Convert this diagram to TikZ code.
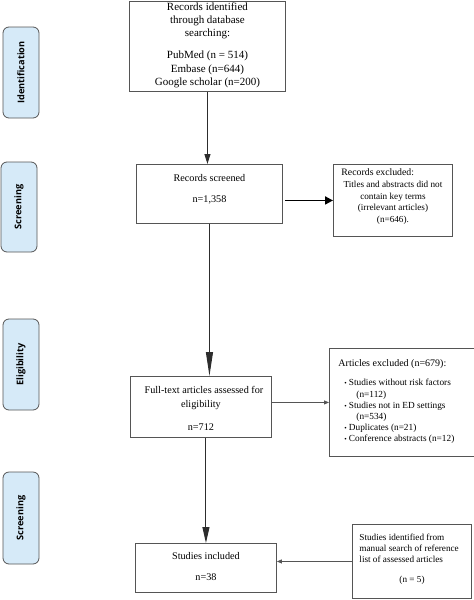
\documentclass[tikz,border=0pt]{standalone}
\usepackage{fontspec}
\setmainfont{Liberation Serif}
\newfontfamily\lblfont{Open Sans}
\usetikzlibrary{arrows.meta}
\definecolor{lblfill}{RGB}{214,234,248}
\definecolor{edge}{RGB}{85,85,85}
\definecolor{lineclr}{RGB}{45,45,45}
\begin{document}
\begin{tikzpicture}[x=1pt,y=-1pt,
  box/.style={draw=edge,line width=0.9pt,inner sep=0pt,anchor=north west},
  phase/.style={draw=edge,fill=lblfill,rounded corners=6pt,line width=0.8pt,rotate=90,
    font=\lblfont\bfseries\fontsize{9.2}{10}\selectfont,inner sep=0pt,minimum height=36pt},
  vline/.style={draw=lineclr,line width=1pt},
  hthick/.style={draw=black,line width=1.8pt,-{Triangle[length=8pt,width=8pt]}},
  hthin/.style={draw=edge,line width=0.8pt,-{Triangle[length=5pt,width=4pt]}}
]
\useasboundingbox (0,0) rectangle (474,600);

% phase labels
\node[phase,minimum width=91pt] (pid) at (21,72.5) {Identification};
\node[phase,minimum width=90pt] (psc1) at (19,207) {Screening};
\node[phase,minimum width=91pt] (pel) at (21,364.5) {Eligibility};
\node[phase,minimum width=92pt] (psc2) at (21,518) {Screening};

% boxes
\node[box] (b1) at (129,0.5) {\parbox[t][90.5pt][t]{156pt}{\fontsize{11}{13.3}\selectfont\centering
  \vspace*{1.6pt}Records identified\\through database\\searching:\\[8.7pt]PubMed (n = 514)\\Embase (n=644)\\Google scholar (n=200)}};

\node[box] (scr) at (136,164) {\parbox[t][59pt][t]{146pt}{\fontsize{10.2}{12.6}\selectfont\centering
  \vspace*{10.3pt}Records screened\\[8.4pt]n=1,358}};

\node[box] (exc1) at (333,164) {\parbox[t][72pt][t]{119pt}{\fontsize{9.2}{11.7}\selectfont\centering
  \vspace*{4.5pt}\makebox[119pt][l]{\hspace*{8pt}\fontsize{9.8}{11.7}\selectfont Records excluded:}\\Titles and abstracts did not\\contain key terms\\(irrelevant articles)\\(n=646).}};

\node[box] (ft) at (130,376) {\parbox[t][61pt][t]{141pt}{\fontsize{10.2}{13.8}\selectfont\centering
  \vspace*{10.1pt}\hspace*{6pt}Full-text articles assessed for\\eligibility\\[9.2pt]n=712}};

\node[box] (exc2) at (329,348) {\parbox[t][108pt][t]{165pt}{\raggedright
  \vspace*{11pt}{\fontsize{10}{12}\selectfont\hspace*{9pt}Articles excluded (n=679):}\\[8.5pt]
  \fontsize{9.3}{11.1}\selectfont
  \hspace*{15pt}{\scriptsize\textbullet}\hspace{2pt}Studies without risk factors\\
  \hspace*{27pt}(n=112)\\
  \hspace*{15pt}{\scriptsize\textbullet}\hspace{2pt}Studies not in ED settings\\
  \hspace*{27pt}(n=534)\\
  \hspace*{15pt}{\scriptsize\textbullet}\hspace{2pt}Duplicates (n=21)\\
  \hspace*{15pt}{\scriptsize\textbullet}\hspace{2pt}Conference abstracts (n=12)}};

\node[box] (inc) at (135,543) {\parbox[t][49pt][t]{141pt}{\fontsize{10.2}{12.6}\selectfont\centering
  \vspace*{9.3pt}Studies included\\[8.4pt]n=38}};

\node[box] (sid) at (352,524) {\parbox[t][74pt][t]{119pt}{\fontsize{9.2}{11}\selectfont\raggedright
  \vspace*{9.5pt}\hspace*{7pt}Studies identified from\\\hspace*{7pt}manual search of reference\\\hspace*{7pt}list of assessed articles\\[9pt]
  \hspace*{47pt}(n = 5)}};

% connectors
\draw[vline,-{Triangle[length=10pt,width=6pt]}] (b1.south) -- (b1.south |- scr.north);
\draw[hthick] ([xshift=2pt]scr.east |- exc1.west) -- (exc1.west);
\draw[vline,-{Triangle[length=24pt,width=7pt]}] (scr.south) -- (scr.south |- ft.north);
\draw[hthin] (ft.east |- exc2.west) -- (exc2.west);
\draw[vline,-{Triangle[length=16pt,width=7pt]}] (ft.south -| inc.north) -- (inc.north);
\draw[hthin] (sid.west) -- (sid.west -| inc.east);
\end{tikzpicture}
\end{document}
